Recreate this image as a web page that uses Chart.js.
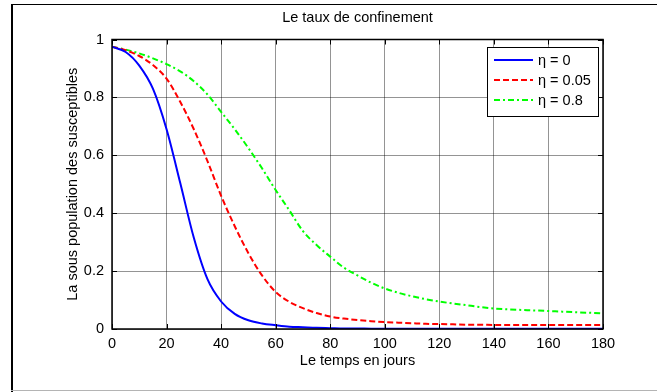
<!DOCTYPE html>
<html>
<head>
<meta charset="utf-8">
<script src="https://cdn.jsdelivr.net/npm/chart.js@4"></script>
<style>
html, body { margin: 0; padding: 0; background: #fff; }
#wrap { width: 657px; height: 392px; }
</style>
</head>
<body>
<div id="wrap"><canvas id="tauxChart" width="657" height="392"></canvas></div>
<script>
// Sous-population des susceptibles selon le taux de confinement eta

const jours = [0, 5, 10, 15, 20, 25, 30, 35, 40, 45, 50, 55, 60, 65, 70, 75, 80, 85, 90,
    95, 100, 105, 110, 115, 120, 125, 130, 135, 140, 145, 150, 155, 160, 165, 170, 175, 180];

const eta0 = [0.975, 0.957, 0.91, 0.83, 0.69, 0.505, 0.315, 0.172, 0.095, 0.052, 0.03, 0.019,
    0.013, 0.008, 0.006, 0.004, 0.003, 0.002, 0.002, 0.001, 0.001, 0.001, 0.001, 0.001, 0.001,
    0.001, 0.001, 0.001, 0.001, 0.001, 0.001, 0.001, 0.001, 0.001, 0.001, 0.001, 0.001];

const eta005 = [0.975, 0.963, 0.943, 0.912, 0.865, 0.785, 0.69, 0.58, 0.46, 0.355, 0.262, 0.185,
    0.128, 0.094, 0.072, 0.055, 0.043, 0.036, 0.031, 0.027, 0.024, 0.022, 0.02, 0.018, 0.017,
    0.016, 0.015, 0.015, 0.014, 0.014, 0.014, 0.014, 0.014, 0.014, 0.014, 0.014, 0.014];

const eta08 = [0.975, 0.965, 0.952, 0.935, 0.915, 0.89, 0.856, 0.81, 0.75, 0.69, 0.625, 0.555,
    0.48, 0.41, 0.338, 0.29, 0.25, 0.212, 0.185, 0.16, 0.14, 0.125, 0.113, 0.103, 0.095,
    0.088, 0.082, 0.076, 0.071, 0.068, 0.066, 0.064, 0.062, 0.06, 0.058, 0.056, 0.054];

const libelles = ['\u03B7 = 0', '\u03B7 = 0.05', '\u03B7 = 0.8'];
const xTicks = [0, 20, 40, 60, 80, 100, 120, 140, 160, 180];
const yTicks = [0, 0.2, 0.4, 0.6, 0.8, 1];

const POLICE = 'Liberation Sans, Arial, sans-serif';
const TAILLE = 14.5;

function points(vals) {
    return jours.map((j, i) => ({ x: j, y: vals[i] }));
}

// cadre de la figure, boite des axes, graduations internes, legende et titre
const cadrePlugin = {
    id: 'cadre',
    beforeDraw(chart) {
        const ctx = chart.ctx;
        ctx.save();
        ctx.fillStyle = '#fff';
        ctx.fillRect(0, 0, chart.width, chart.height);
        ctx.fillStyle = '#000';
        ctx.fillRect(11, 4, 2, 388);
        ctx.fillRect(11, 4, 646, 1);
        ctx.fillStyle = '#b4b4b4';
        ctx.fillRect(11, 390, 646, 1);
        ctx.restore();
    },
    afterDatasetsDraw(chart) {
        const ctx = chart.ctx;
        const a = chart.chartArea;
        const sx = chart.scales.x, sy = chart.scales.y;
        ctx.save();

        // graduations vers l'interieur
        ctx.strokeStyle = '#000';
        ctx.lineWidth = 1;
        ctx.beginPath();
        xTicks.forEach(v => {
            const px = Math.round(sx.getPixelForValue(v)) + 0.5;
            ctx.moveTo(px, a.bottom); ctx.lineTo(px, a.bottom - 5);
            ctx.moveTo(px, a.top); ctx.lineTo(px, a.top + 5);
        });
        yTicks.forEach(v => {
            const py = Math.round(sy.getPixelForValue(v)) + 0.5;
            ctx.moveTo(a.left, py); ctx.lineTo(a.left + 5, py);
            ctx.moveTo(a.right, py); ctx.lineTo(a.right - 5, py);
        });
        ctx.stroke();

        // boite des axes
        ctx.lineWidth = 1.5;
        ctx.strokeRect(a.left, a.top, a.right - a.left, a.bottom - a.top);

        // legende
        const lx = 487.5, ly = 47.5, lw = 111, lh = 69;
        ctx.fillStyle = '#fff';
        ctx.fillRect(lx, ly, lw, lh);
        ctx.lineWidth = 1;
        ctx.strokeStyle = '#000';
        ctx.strokeRect(lx, ly, lw, lh);
        ctx.font = TAILLE + 'px ' + POLICE;
        ctx.textBaseline = 'middle';
        ctx.textAlign = 'left';
        chart.data.datasets.forEach((ds, i) => {
            const y = 60 + i * 20;
            ctx.strokeStyle = ds.borderColor;
            ctx.lineWidth = ds.borderWidth;
            ctx.setLineDash(ds.borderDash || []);
            ctx.beginPath();
            ctx.moveTo(494, y);
            ctx.lineTo(533, y);
            ctx.stroke();
            ctx.setLineDash([]);
            ctx.fillStyle = '#000';
            ctx.fillText(ds.label, 538, y + 1);
        });

        // titre
        ctx.textAlign = 'center';
        ctx.fillText('Le taux de confinement', (a.left + a.right) / 2, 18);
        ctx.restore();
    }
};

new Chart(document.getElementById('tauxChart'), {
    type: 'line',
    data: {
        datasets: [{
            label: libelles[0],
            data: points(eta0),
            borderColor: '#0000ff',
            borderWidth: 2,
            pointRadius: 0,
            cubicInterpolationMode: 'monotone'
        }, {
            label: libelles[1],
            data: points(eta005),
            borderColor: '#ff0000',
            borderWidth: 2,
            borderDash: [6, 3],
            pointRadius: 0,
            cubicInterpolationMode: 'monotone'
        }, {
            label: libelles[2],
            data: points(eta08),
            borderColor: '#00ff00',
            borderWidth: 2,
            borderDash: [6, 3, 2, 3],
            pointRadius: 0,
            cubicInterpolationMode: 'monotone'
        }]
    },
    options: {
        responsive: false,
        devicePixelRatio: 1,
        animation: false,
        layout: { padding: { top: 39.5, right: 54, left: 0, bottom: 0 } },
        plugins: {
            legend: { display: false },
            tooltip: { enabled: false }
        },
        scales: {
            x: {
                type: 'linear',
                min: 0,
                max: 180,
                afterFit: s => { s.height = 63; },
                afterBuildTicks: s => { s.ticks = xTicks.map(v => ({ value: v })); },
                grid: { color: 'rgba(0, 0, 0, 0.42)', lineWidth: 1, drawTicks: false },
                border: { display: false },
                ticks: {
                    padding: 6,
                    color: '#000',
                    font: { family: POLICE, size: TAILLE },
                    maxRotation: 0
                },
                title: {
                    display: true,
                    text: 'Le temps en jours',
                    color: '#000',
                    font: { family: POLICE, size: TAILLE },
                    padding: { top: 0, bottom: 22 }
                }
            },
            y: {
                min: 0,
                max: 1,
                afterFit: s => { s.width = 112; },
                afterBuildTicks: s => { s.ticks = yTicks.map(v => ({ value: v })); },
                grid: { color: 'rgba(0, 0, 0, 0.42)', lineWidth: 1, drawTicks: false },
                border: { display: false },
                ticks: {
                    padding: 8,
                    color: '#000',
                    font: { family: POLICE, size: TAILLE },
                    callback: v => String(Number(v.toFixed(1)))
                },
                title: {
                    display: true,
                    text: 'La sous population des susceptibles',
                    color: '#000',
                    font: { family: POLICE, size: TAILLE },
                    padding: { top: 64, bottom: 0 }
                }
            }
        }
    },
    plugins: [cadrePlugin]
});
</script>
</body>
</html>
